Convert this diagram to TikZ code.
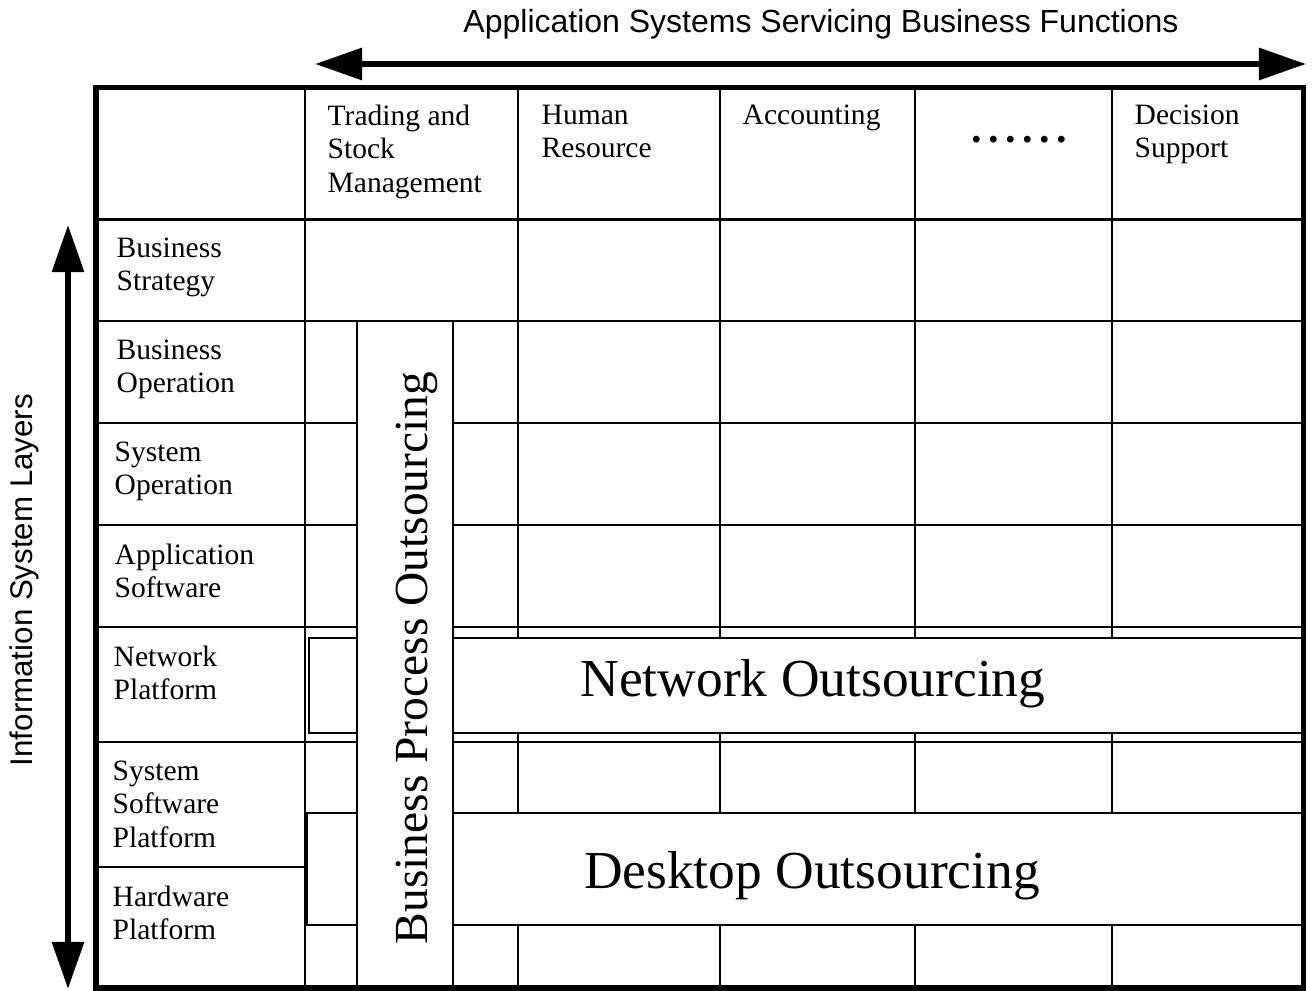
\documentclass[tikz,border=0pt]{standalone}
\usepackage{fontspec}
\setmainfont{Liberation Serif}
\setsansfont{Liberation Sans}
\usetikzlibrary{arrows.meta}
\tikzset{
  grid line/.style={line width=0.025cm},
  frame line/.style={line width=0.05cm},
  band/.style={draw, fill=white, line width=0.025cm},
  cell/.style={inner sep=0pt, anchor=north west, align=left, font=\fontsize{8.4}{9.5}\selectfont},
  band text/.style={inner sep=0pt, anchor=base, font=\fontsize{15.2}{18}\selectfont},
  axisarrow/.style={line width=0.06cm, {Triangle[length=0.47cm,width=0.31cm]}-{Triangle[length=0.47cm,width=0.31cm]}},
  axis text/.style={inner sep=0pt, anchor=base, font=\sffamily\fontsize{9.1}{11}\selectfont},
}
\begin{document}
\begin{tikzpicture}[x=0.01cm, y=-0.01cm, line join=miter]
  \useasboundingbox (0,0) rectangle (1314,991);
  % axes
  \coordinate (topL) at (315,64);
  \coordinate (topR) at (1306,64);
  \coordinate (sideT) at (68,225);
  \coordinate (sideB) at (68,989);
  \draw[axisarrow] (topL) -- (topR);
  \draw[axisarrow] (sideT) -- (sideB);
  \node[axis text] (funcs) at (821,33) {Application Systems Servicing Business Functions};
  \node[axis text, rotate=90, font=\sffamily\fontsize{8.9}{11}\selectfont] (layers) at (32,580) {Information System Layers};
  % table grid
  \foreach \y in {219.5,321,423,525,627,742}
    \draw[grid line] (96,\y) -- (1303,\y);
  \draw[grid line] (96,867) -- (307,867);
  \foreach \x in {305,518,720,915,1112}
    \draw[grid line] (\x,87.5) -- (\x,988);
  % column heads
  \node[cell] (trading) at (327,104) {Trading and\\Stock\\Management};
  \node[cell] (human) at (541,104) {Human\\Resource};
  \node[cell] (acct) at (742,104) {Accounting};
  \node[cell, anchor=base west, font=\bfseries\fontsize{12}{14}\selectfont] (more) at (971,143)
    {.\hspace{1.85pt}.\hspace{1.85pt}.\hspace{1.85pt}.\hspace{1.85pt}.\hspace{1.85pt}.};
  \node[cell] (decision) at (1134,104) {Decision\\Support};
  % layer names
  \node[cell] (strategy) at (116,237) {Business\\Strategy};
  \node[cell] (bizop) at (116,339) {Business\\Operation};
  \node[cell] (sysop) at (114,441) {System\\Operation};
  \node[cell] (appsw) at (114,543) {Application\\Software};
  \node[cell] (netpf) at (113,645) {Network\\Platform};
  \node[cell] (syssw) at (112,760) {System\\Software\\Platform};
  \node[cell] (hwpf) at (112,885) {Hardware\\Platform};
  % outsourcing bands
  \draw[band] (309,638) rectangle (1303,733);
  \node[band text] (network) at (813,697) {Network Outsourcing};
  \draw[band] (307,813) rectangle (1303,925);
  \node[band text] (desktop) at (812,888) {Desktop Outsourcing};
  \draw[band] (357,321) rectangle (453,988);
  \node[band text, rotate=90, font=\fontsize{13.5}{16}\selectfont] (bpo) at (427,658) {Business Process Outsourcing};
  \draw[frame line] (96,87.5) rectangle (1303,988);
\end{tikzpicture}
\end{document}
